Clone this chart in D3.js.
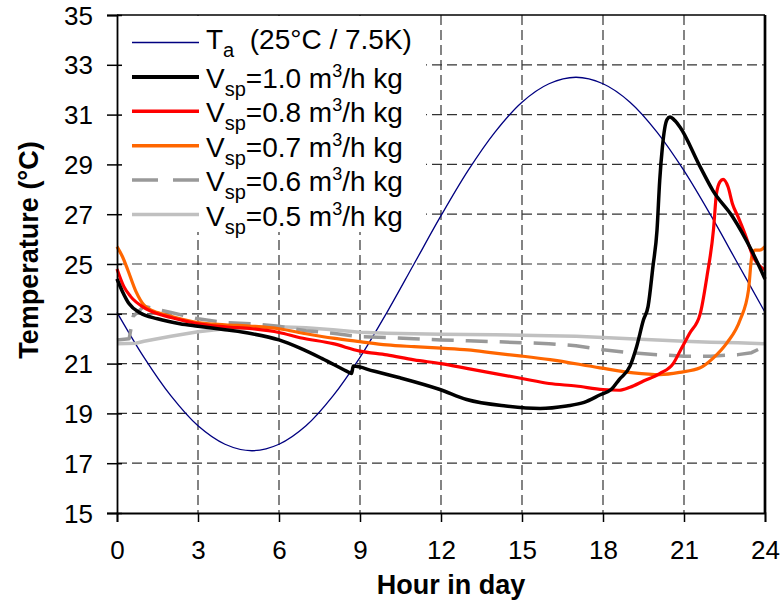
<!DOCTYPE html>
<html>
<head>
<meta charset="utf-8">
<script src="https://cdnjs.cloudflare.com/ajax/libs/d3/7.8.5/d3.min.js"></script>
<style>
    body { margin: 0; background: #fff; }
    svg { font-family: "Liberation Sans", Arial, Helvetica, sans-serif; }
    .legend text { white-space: pre; }
</style>
</head>
<body>
<div id="chart"></div>
<script>

// ---- data: [hour, temperature] ----
const xTicks = [0, 3, 6, 9, 12, 15, 18, 21, 24]
const yTicks = [15, 17, 19, 21, 23, 25, 27, 29, 31, 33, 35]

const taData = [[0,23.06],[1,21.25],[2,19.7],[3,18.5],[4,17.76],[5,17.5],[6,17.76],[7,18.5],[8,19.7],
    [9,21.25],[10,23.06],[11,25.0],[12,26.94],[13,28.75],[14,30.3],[15,31.5],[16,32.24],[17,32.5],
    [18,32.24],[19,31.5],[20,30.3],[21,28.75],[22,26.94],[23,25.0],[24,23.06]]

const vsp10 = [[0,24.4],[0.2,23.9],[0.45,23.4],[0.85,23.04],[1.5,22.8],[2.33,22.6],[3,22.5],[4,22.36],
    [5,22.2],[6,21.95],[6.78,21.62],[7.6,21.2],[8.5,20.7],[8.69,20.6],[8.75,20.9],[9.5,20.7],[10.48,20.43],
    [11.96,19.96],[12.95,19.56],[14.4,19.3],[15.67,19.2],[16.65,19.3],[17.3,19.44],[17.9,19.75],[18.3,19.96],
    [18.6,20.36],[19,20.9],[19.25,21.7],[19.5,22.76],[19.67,23.3],[19.85,24.9],[20,26.35],[20.1,28.35],
    [20.2,29.7],[20.37,30.8],[20.48,30.9],[20.67,30.75],[20.85,30.5],[21.6,28.9],[22.07,27.95],[22.8,26.9],
    [23.5,25.55],[24,24.4]]

const vsp08 = [[0,24.8],[0.25,24.1],[0.5,23.7],[1,23.25],[1.5,23.0],[2,22.85],[3,22.6],[4,22.48],[5,22.4],
    [6,22.25],[6.78,22.04],[8,21.8],[9,21.5],[10,21.35],[11,21.15],[12,21.0],[13,20.8],[14,20.6],[15,20.4],
    [16,20.2],[17,20.1],[18,19.96],[18.6,19.93],[19,20.05],[19.5,20.3],[20.1,20.6],[20.6,21.0],[20.9,21.6],
    [21.2,22.2],[21.6,23.0],[21.85,24.5],[22.09,26.36],[22.2,27.8],[22.33,28.3],[22.45,28.4],
    [22.63,28.1],[22.8,27.4],[23.0,26.9],[23.26,26.2],[23.56,25.3],[24,24.76]]

const vsp07 = [[0,25.7],[0.2,25.3],[0.4,24.76],[0.7,23.9],[1,23.35],[1.5,23.05],[2,22.9],[3,22.65],[4,22.56],
    [5,22.5],[6,22.4],[7,22.2],[8,22.02],[9,21.88],[10,21.75],[11,21.68],[12,21.62],[13,21.55],[14,21.42],
    [15,21.3],[16.04,21.16],[17.89,20.83],[19.13,20.63],[20.11,20.56],[20.85,20.65],[21.6,20.83],[22.09,21.23],
    [22.59,21.83],[23.08,22.76],[23.39,23.96],[23.51,25.3],[23.63,25.56],[23.81,25.56],[24,25.7]]

const vsp06 = [[0,21.95],[0.45,22.0],[0.6,22.9],[1.0,23.3],[2,23.05],[3,22.8],[4,22.65],[5,22.6],[6,22.5],
    [7,22.32],[8,22.22],[9,22.08],[10,22.05],[11,22.0],[12,21.95],[13,21.92],[14,21.88],[15,21.84],[16,21.8],
    [17,21.72],[18,21.56],[19,21.44],[20,21.36],[21,21.3],[22,21.3],[23,21.36],[23.5,21.44],[24,21.7]]

const vsp05 = [[0,21.8],[0.7,21.82],[1,21.9],[2,22.1],[3,22.28],[4,22.4],[5,22.44],[6,22.48],[7,22.44],
    [8,22.36],[9,22.26],[10,22.22],[11,22.2],[12,22.18],[14,22.16],[15,22.14],[16,22.12],[17,22.1],
    [18,22.05],[19,22.0],[20,21.95],[21,21.9],[22,21.86],[23,21.84],[24,21.8]]

const vspLabels = ['1.0', '0.8', '0.7', '0.6', '0.5']

// ---- drawing ----
const width = 783
const height = 604
const plot = { left: 117, right: 765, top: 15, bottom: 513 }

const svg = d3.select('#chart')
    .append('svg')
    .attr('width', width)
    .attr('height', height)

const x = d3.scaleLinear().domain([0, 24]).range([plot.left, plot.right])
const y = d3.scaleLinear().domain([15, 35]).range([plot.bottom, plot.top])

// dashed grid
svg.append('g')
    .selectAll('line')
    .data(yTicks.slice(1, -1))
    .enter().append('line')
    .attr('x1', plot.left).attr('x2', plot.right)
    .attr('y1', d => y(d)).attr('y2', d => y(d))
    .attr('stroke', '#333').attr('stroke-width', 1.2)
    .attr('stroke-dasharray', '10,5')

svg.append('g')
    .selectAll('line')
    .data(xTicks.slice(1, -1))
    .enter().append('line')
    .attr('x1', d => x(d)).attr('x2', d => x(d))
    .attr('y1', plot.top).attr('y2', plot.bottom)
    .attr('stroke', '#333').attr('stroke-width', 1.2)
    .attr('stroke-dasharray', '10,5')

// series
const series = [
    { data: taData, color: '#000080', width: 1.3, curve: d3.curveCatmullRom },
    { data: vsp10, color: '#000000', width: 3.5, curve: d3.curveMonotoneX },
    { data: vsp08, color: '#ff0000', width: 3.2, curve: d3.curveMonotoneX },
    { data: vsp07, color: '#ff6600', width: 3.2, curve: d3.curveMonotoneX },
    { data: vsp06, color: '#999999', width: 3.5, curve: d3.curveLinear, dash: '22,12' },
    { data: vsp05, color: '#c0c0c0', width: 3.5, curve: d3.curveLinear }
]

const drawOrder = [0, 5, 4, 3, 2, 1]
drawOrder.forEach(i => {
    let s = series[i]
    let line = d3.line()
        .x(d => x(d[0]))
        .y(d => y(d[1]))
        .curve(s.curve)
    svg.append('path')
        .datum(s.data)
        .attr('d', line)
        .attr('fill', 'none')
        .attr('stroke', s.color)
        .attr('stroke-width', s.width)
        .attr('stroke-linejoin', 'round')
        .attr('stroke-dasharray', s.dash || null)
})

// legend (white box hides the grid behind it)
const legend = svg.append('g').attr('class', 'legend')
legend.append('rect')
    .attr('x', plot.left + 1).attr('y', plot.top + 1)
    .attr('width', 308).attr('height', 216)
    .attr('fill', '#fff')

const rowY = i => 42.5 + i * 34.4

series.forEach((s, i) => {
    legend.append('line')
        .attr('x1', 132).attr('x2', 199)
        .attr('y1', rowY(i)).attr('y2', rowY(i))
        .attr('stroke', s.color)
        .attr('stroke-width', i == 0 ? 1.5 : (i == 1 ? 4 : 3.5))
        .attr('stroke-dasharray', s.dash ? '26,15' : null)
})

let ta = legend.append('text')
    .attr('x', 206).attr('y', rowY(0) + 6)
    .style('font-size', '28px')
ta.append('tspan').text('T')
ta.append('tspan').attr('dy', 8).style('font-size', '20px').text('a')
ta.append('tspan').attr('dy', -8).text('  (25°C / 7.5K)')

vspLabels.forEach((v, i) => {
    let t = legend.append('text')
        .attr('x', 206).attr('y', rowY(i + 1) + 11)
        .style('font-size', '28px')
    t.append('tspan').text('V')
    t.append('tspan').attr('dy', 8).style('font-size', '20px').text('sp')
    t.append('tspan').attr('dy', -8).text('=' + v + ' m')
    t.append('tspan').attr('dy', -11).style('font-size', '18px').text('3')
    t.append('tspan').attr('dy', 11).text('/h kg')
})

// frame top and right
svg.append('line')
    .attr('x1', plot.left).attr('x2', plot.right)
    .attr('y1', plot.top).attr('y2', plot.top)
    .attr('stroke', '#000').attr('stroke-width', 1.7)
svg.append('line')
    .attr('x1', plot.right).attr('x2', plot.right)
    .attr('y1', plot.top).attr('y2', plot.bottom)
    .attr('stroke', '#000').attr('stroke-width', 2.7)

// axes
const gy = svg.append('g')
    .attr('transform', `translate(${plot.left},0)`)
    .call(d3.axisLeft(y).tickValues(yTicks).tickSize(10).tickFormat(d3.format('d')))
gy.select('.domain').attr('stroke-width', 1.8)
gy.selectAll('.tick line').attr('x1', 5).attr('stroke-width', 1.5)
gy.selectAll('.tick text')
    .attr('x', -24)
    .attr('dy', '0.35em')
    .style('font-size', '26px')
    .attr('fill', '#000')

const gx = svg.append('g')
    .attr('transform', `translate(0,${plot.bottom})`)
    .call(d3.axisBottom(x).tickValues(xTicks).tickSize(9).tickFormat(d3.format('d')))
gx.select('.domain').attr('stroke-width', 1.8)
gx.selectAll('.tick line').attr('stroke-width', 1.5)
gx.selectAll('.tick text')
    .attr('y', 46)
    .attr('dy', 0)
    .style('font-size', '26px')
    .attr('fill', '#000')
svg.selectAll('.domain').attr('stroke', '#000')

// axis titles
svg.append('text')
    .attr('x', 451).attr('y', 594)
    .attr('text-anchor', 'middle')
    .style('font-size', '27px').style('font-weight', 'bold')
    .text('Hour in day')

svg.append('text')
    .attr('transform', 'translate(38,250) rotate(-90)')
    .attr('text-anchor', 'middle')
    .style('font-size', '27px').style('font-weight', 'bold')
    .text('Temperature (°C)')

</script>
</body>
</html>
